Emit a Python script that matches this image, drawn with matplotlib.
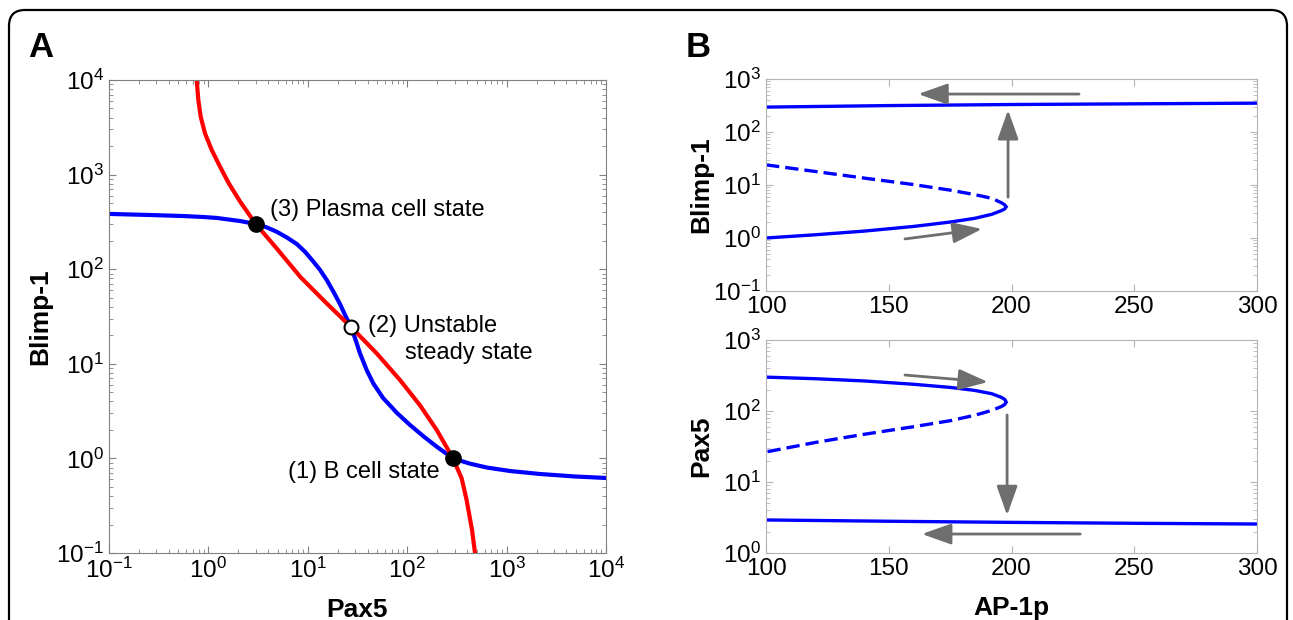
import matplotlib
matplotlib.use('Agg')
import matplotlib.pyplot as plt
from matplotlib.patches import FancyBboxPatch
from matplotlib.transforms import IdentityTransform
from matplotlib.ticker import LogLocator, NullFormatter

plt.rcParams['font.family'] = ['Liberation Sans', 'DejaVu Sans']
plt.rcParams['mathtext.fontset'] = 'custom'
plt.rcParams['mathtext.rm'] = 'Liberation Sans'

# panel A: nullclines
blue_pax5 = [0.1, 0.26, 0.55, 0.9, 1.22, 2.08, 3.0, 3.85, 4.86, 6.13, 7.73, 9.37, 11.4, 13.3, 15.5,
             18.1, 21.1, 23.7, 27.2, 29.9, 33.5, 39.1, 45.6, 57.2, 78.9, 107, 144, 200, 289,
             428, 635, 1081, 2168, 4877, 10000]
blue_blimp = [384, 374, 365, 356, 348, 323, 300, 277, 249, 217, 185, 153, 120, 98, 77,
              57.8, 42.8, 32.8, 24.5, 18.6, 12.9, 8.6, 6.2, 4.35, 3.02, 2.25, 1.73, 1.32, 1.0,
              0.88, 0.80, 0.736, 0.684, 0.644, 0.621]
red_pax5 = [0.762, 0.792, 0.836, 0.924, 1.08, 1.31, 1.6, 2.08, 3.0, 4.86, 8.4, 14.9, 27.2,
            49.3, 85, 134, 198, 289, 353, 396, 449, 481]
red_blimp = [10000, 6150, 4100, 2730, 1820, 1210, 812, 520, 300, 166, 83, 45.3, 24.5,
             12.9, 6.7, 3.66, 2.0, 1.0, 0.615, 0.363, 0.175, 0.1]
ss_pax5 = [289, 27.2, 3.0]
ss_blimp = [1.0, 24.5, 300]
ss_labels = ['(1) B cell state', '(2) Unstable', '(3) Plasma cell state']

# panel B, top: Blimp-1 vs AP-1p
ap_b_hi = [100, 150, 200, 250, 300]
blimp_hi = [295, 315, 330, 340, 350]
ap_b_lo = [100, 120, 140, 160, 175, 185, 192, 196, 197.3, 197.8]
blimp_lo = [1.0, 1.15, 1.35, 1.65, 2.0, 2.35, 2.8, 3.3, 3.55, 3.85]
ap_b_mid = [197.8, 197.3, 196, 192, 185, 175, 160, 140, 120, 100]
blimp_mid = [3.85, 4.2, 4.6, 5.6, 6.6, 8.0, 10.2, 13.5, 18, 24]

# panel B, bottom: Pax5 vs AP-1p
ap_p_hi = [100, 120, 140, 160, 175, 185, 192, 196, 197.3, 197.8]
pax_hi = [300, 285, 265, 238, 215, 195, 175, 155, 145, 134]
ap_p_mid = [197.8, 197.3, 196, 192, 185, 175, 160, 140, 120, 100]
pax_mid = [134, 124, 116, 102, 87, 73, 60, 47, 36, 26.5]
ap_p_lo = [100, 150, 200, 250, 300]
pax_lo = [2.92, 2.8, 2.7, 2.62, 2.56]

# hysteresis arrows (start, end)
arrows_top = [((227.5, 520), (162, 520)), ((198.6, 5.9), (198.6, 260)), ((156.6, 0.96), (188, 1.48))]
arrows_bot = [((156.6, 321), (190.4, 256)), ((198.2, 88), (198.2, 3.4)), ((228, 1.85), (163.5, 1.85))]

W, H = 1293, 620
fig = plt.figure(figsize=(W / 100, H / 100), dpi=100)

border = FancyBboxPatch((9, -40), 1278, 650, boxstyle='round,pad=0,rounding_size=16',
                        transform=IdentityTransform(), fill=False, edgecolor='black', lw=1.6)
fig.add_artist(border)


def style_log_axis(ax, spine_color):
    for s in ax.spines.values():
        s.set_color(spine_color)
    ax.tick_params(which='both', direction='in', top=True, right=True, colors=spine_color,
                   labelcolor='black', labelsize=17.5)
    ax.tick_params(which='major', length=5)
    ax.tick_params(which='minor', length=3)


# ---- panel A
axA = fig.add_axes([109 / W, 67 / H, 497 / W, 473 / H])
axA.plot(blue_pax5, blue_blimp, color='#0000ff', lw=3)
axA.plot(red_pax5, red_blimp, color='#ff0000', lw=3)
axA.plot([ss_pax5[0], ss_pax5[2]], [ss_blimp[0], ss_blimp[2]], 'o', color='black', ms=11, zorder=5)
axA.plot(ss_pax5[1], ss_blimp[1], 'o', mfc='white', mec='black', mew=1.5, ms=10, zorder=5)
axA.set_xscale('log')
axA.set_yscale('log')
axA.set_xlim(0.1, 1e4)
axA.set_ylim(0.1, 1e4)
for a in (axA.xaxis, axA.yaxis):
    a.set_major_locator(LogLocator(base=10, numticks=10))
    a.set_minor_locator(LogLocator(base=10, subs=range(2, 10), numticks=10))
    a.set_minor_formatter(NullFormatter())
style_log_axis(axA, '#808080')
axA.set_xlabel('Pax5', fontsize=19, fontweight='bold')
axA.set_ylabel('Blimp-1', fontsize=19, fontweight='bold')
axA.xaxis.set_label_coords(0.5, -0.095)
axA.yaxis.set_label_coords(-0.115, 0.5)

axA.text(4.17, 423, ss_labels[2], fontsize=17, va='center')
axA.text(40, 25, ss_labels[1], fontsize=17, va='center')
axA.text(95, 12.9, 'steady state', fontsize=17, va='center')
axA.text(214, 0.72, ss_labels[0], fontsize=17, va='center', ha='right')

fig.text(28 / W, 1 - 57 / H, 'A', fontsize=25, fontweight='bold')
fig.text(686 / W, 1 - 57 / H, 'B', fontsize=25, fontweight='bold')

arrow_kw = dict(arrowstyle='-|>,head_length=0.9,head_width=0.32', color='#6e6e6e',
                lw=2, mutation_scale=20, shrinkA=0, shrinkB=0)

# ---- panel B top
axB1 = fig.add_axes([766 / W, (H - 291) / H, 491 / W, 212 / H])
axB1.plot(ap_b_hi, blimp_hi, color='#0000ff', lw=2.4)
axB1.plot(ap_b_lo, blimp_lo, color='#0000ff', lw=2.4)
axB1.plot(ap_b_mid, blimp_mid, color='#0000ff', lw=2.4, dashes=(4, 1.8))
for (x0, y0), (x1, y1) in arrows_top:
    axB1.annotate('', xy=(x1, y1), xytext=(x0, y0), arrowprops=arrow_kw)
axB1.set_yscale('log')
axB1.set_xlim(100, 300)
axB1.set_ylim(0.1, 1000)
axB1.set_xticks([100, 150, 200, 250, 300])
axB1.yaxis.set_minor_locator(LogLocator(base=10, subs=range(2, 10), numticks=10))
axB1.yaxis.set_minor_formatter(NullFormatter())
style_log_axis(axB1, '#b4b4b4')
axB1.set_ylabel('Blimp-1', fontsize=19, fontweight='bold')
axB1.yaxis.set_label_coords(-0.108, 0.5)

# ---- panel B bottom
axB2 = fig.add_axes([766 / W, 67 / H, 491 / W, 213 / H])
axB2.plot(ap_p_hi, pax_hi, color='#0000ff', lw=2.4)
axB2.plot(ap_p_mid, pax_mid, color='#0000ff', lw=2.4, dashes=(4, 1.8))
axB2.plot(ap_p_lo, pax_lo, color='#0000ff', lw=2.4)
for (x0, y0), (x1, y1) in arrows_bot:
    axB2.annotate('', xy=(x1, y1), xytext=(x0, y0), arrowprops=arrow_kw)
axB2.set_yscale('log')
axB2.set_xlim(100, 300)
axB2.set_ylim(1, 1000)
axB2.set_xticks([100, 150, 200, 250, 300])
axB2.yaxis.set_minor_locator(LogLocator(base=10, subs=range(2, 10), numticks=10))
axB2.yaxis.set_minor_formatter(NullFormatter())
style_log_axis(axB2, '#b4b4b4')
axB2.set_ylabel('Pax5', fontsize=19, fontweight='bold')
axB2.yaxis.set_label_coords(-0.108, 0.5)
axB2.set_xlabel('AP-1p', fontsize=19, fontweight='bold')
axB2.xaxis.set_label_coords(0.5, -0.2)

fig.savefig('out.png', dpi=100)
